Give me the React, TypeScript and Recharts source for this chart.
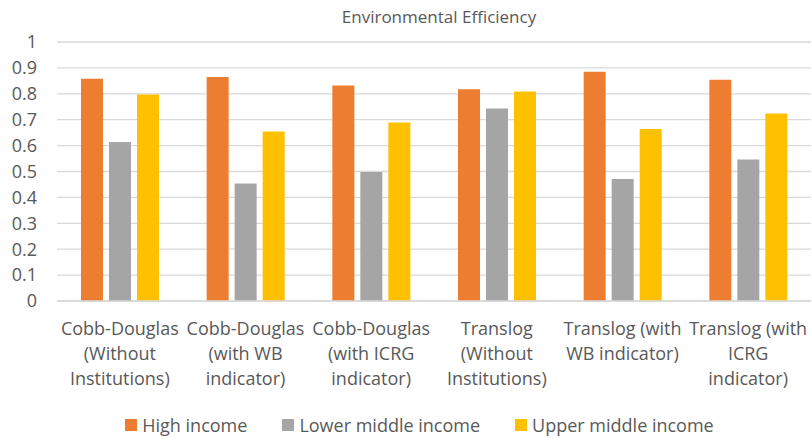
import React from "react";
import { BarChart, Bar, XAxis, YAxis, CartesianGrid, Legend } from "recharts";

const categories = [
  "Cobb-Douglas (Without Institutions)",
  "Cobb-Douglas (with WB indicator)",
  "Cobb-Douglas (with ICRG indicator)",
  "Translog (Without Institutions)",
  "Translog (with WB indicator)",
  "Translog (with ICRG indicator)",
];

// wrapped the way the original axis shows them
const tickLines = [
  ["Cobb-Douglas", "(Without", "Institutions)"],
  ["Cobb-Douglas", "(with WB", "indicator)"],
  ["Cobb-Douglas", "(with ICRG", "indicator)"],
  ["Translog", "(Without", "Institutions)"],
  ["Translog (with", "WB indicator)"],
  ["Translog (with", "ICRG", "indicator)"],
];

const highIncome = [0.858, 0.865, 0.832, 0.818, 0.885, 0.854];
const lowerMiddleIncome = [0.614, 0.454, 0.498, 0.743, 0.471, 0.546];
const upperMiddleIncome = [0.797, 0.654, 0.689, 0.809, 0.664, 0.724];

const yTicks = [0, 0.1, 0.2, 0.3, 0.4, 0.5, 0.6, 0.7, 0.8, 0.9, 1];

const series = [
  { key: "high", name: "High income", color: "#ED7D31" },
  { key: "lower", name: "Lower middle income", color: "#A5A5A5" },
  { key: "upper", name: "Upper middle income", color: "#FFC000" },
];

const data = categories.map((name, i) => ({
  name,
  high: highIncome[i],
  lower: lowerMiddleIncome[i],
  upper: upperMiddleIncome[i],
}));

const FONT = "'Open Sans', sans-serif";
const TEXT = "#595959";

const CategoryTick = (props: any) => {
  const { x, y, payload } = props;
  const lines = tickLines[payload.index] || [payload.value];
  return (
    <text x={x} y={y} textAnchor="middle" fill={TEXT} fontSize={18} fontFamily={FONT}>
      {lines.map((l: string, i: number) => (
        <tspan key={i} x={x} dy={i === 0 ? 34 : 25}>
          {l}
        </tspan>
      ))}
    </text>
  );
};

const LegendContent = () => (
  <div
    style={{
      height: 40,
      paddingTop: 12,
      paddingLeft: 28,
      boxSizing: "border-box",
      display: "flex",
      justifyContent: "center",
      alignItems: "center",
      fontFamily: FONT,
      fontSize: 18,
      color: TEXT,
    }}
  >
    {series.map((s, i) => (
      <div key={s.key} style={{ display: "flex", alignItems: "center", marginLeft: i === 0 ? 0 : 35 }}>
        <span style={{ width: 12, height: 12, background: s.color, marginRight: 5 }} />
        <span>{s.name}</span>
      </div>
    ))}
  </div>
);

export default function App() {
  return (
    <div style={{ position: "absolute", left: 0, top: 0 }}>
      <BarChart
        width={812}
        height={439}
        data={data}
        margin={{ top: 42, right: 1, left: 0, bottom: 0 }}
        barGap={6}
      >
        <text x={439} y={23} textAnchor="middle" fill={TEXT} fontSize={17} fontFamily={FONT}>
          Environmental Efficiency
        </text>
        <CartesianGrid vertical={false} stroke="#D9D9D9" strokeWidth={1.3} />
        <XAxis
          dataKey="name"
          interval={0}
          height={98}
          tickLine={false}
          tickSize={0}
          tickMargin={0}
          axisLine={{ stroke: "#D9D9D9", strokeWidth: 1.3 }}
          tick={<CategoryTick />}
        />
        <YAxis
          domain={[0, 1]}
          ticks={yTicks}
          interval={0}
          width={57}
          axisLine={false}
          tickLine={false}
          tickSize={0}
          tickMargin={20}
          tick={{ fill: TEXT, fontSize: 18, fontFamily: FONT }}
        />
        <Legend verticalAlign="bottom" height={40} content={<LegendContent />} />
        {series.map((s) => (
          <Bar key={s.key} dataKey={s.key} name={s.name} fill={s.color} barSize={22} isAnimationActive={false} />
        ))}
      </BarChart>
    </div>
  );
}
